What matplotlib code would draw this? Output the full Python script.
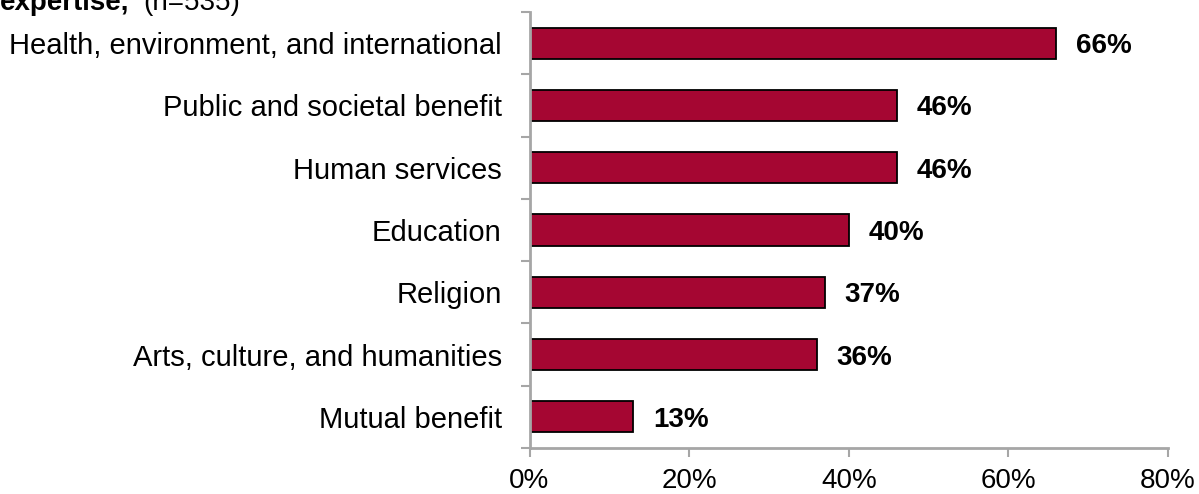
import matplotlib
matplotlib.use("Agg")
import matplotlib.pyplot as plt
import numpy as np

# Share of respondents by subsector, top to bottom
categories = [
    "Health, environment, and international",
    "Public and societal benefit",
    "Human services",
    "Education",
    "Religion",
    "Arts, culture, and humanities",
    "Mutual benefit",
]
values = [66, 46, 46, 40, 37, 36, 13]
x_ticks = [0, 20, 40, 60, 80]

BAR = "#A50632"
AXIS = "#A6A6A6"
FS = 20
plt.rcParams["font.family"] = ["Liberation Sans", "DejaVu Sans"]

fig = plt.figure(figsize=(11.99, 4.94), dpi=100)
ax = fig.add_axes([529.5 / 1199, 46 / 494, 638.5 / 1199, 436 / 494])

y = np.arange(len(categories))[::-1]
ax.barh(y, values, height=0.5, color=BAR, edgecolor="black", linewidth=1.3)

for yi, v in zip(y, values):
    ax.text(v + 2.5, yi, f"{v}%", va="center_baseline", ha="left",
            fontsize=FS, fontweight="bold")

ax.set_xlim(0, 80)
ax.set_ylim(-0.5, len(categories) - 0.5)
ax.set_xticks(x_ticks)
ax.set_xticklabels([f"{t}%" for t in x_ticks], fontsize=FS)

ax.set_yticks(y)
ax.set_yticklabels(categories, fontsize=21)
ax.set_yticks(np.arange(-0.5, len(categories)), minor=True)
ax.tick_params(axis="y", which="major", length=0, pad=20)
ax.tick_params(axis="y", which="minor", length=6.5, width=1.5, color=AXIS)
ax.tick_params(axis="x", length=6.5, width=1.5, color=AXIS, pad=8)

for side in ("top", "right"):
    ax.spines[side].set_visible(False)
for side in ("left", "bottom"):
    ax.spines[side].set_color(AXIS)
    ax.spines[side].set_linewidth(2)

# Header line, partly cut at the top edge
fig.text(0.0, 1 - 10 / 494, "expertise,", fontsize=FS, fontweight="bold",
         va="baseline", ha="left")
fig.text(143 / 1199, 1 - 10 / 494, "(n=535)", fontsize=FS,
         va="baseline", ha="left")

fig.savefig("out.png", dpi=100)
